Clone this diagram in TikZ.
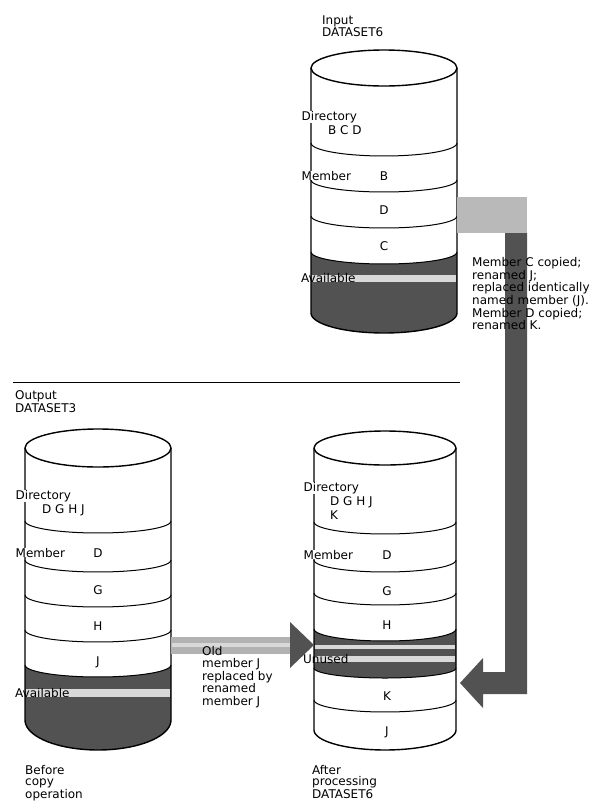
\documentclass[tikz,border=0pt]{standalone}
\usepackage{fontspec}
\setmainfont{DejaVu Sans}
\newcommand\mycylarc[4]{\draw[arcline] plot[domain=180:360,samples=40] ({#1+#2*cos(\x)},{#3-#4*sin(\x)});}
\newcommand\mycyldark[6]{\fill[darkfill] plot[domain=180:360,samples=40] ({#1+#2*cos(\x)},{#3-#4*sin(\x)}) -- plot[domain=360:180,samples=40] ({#1+#2*cos(\x)},{#5-#6*sin(\x)}) -- cycle;}
\newcommand\mycylout[6]{%
  \draw[outl] (#1,#3) ellipse [x radius=#2, y radius=#4];
  \draw[outl] ({#1-#2},#3) -- ({#1-#2},#5) -- plot[domain=180:360,samples=40] ({#1+#2*cos(\x)},{#5-#6*sin(\x)}) -- ({#1+#2},#3);}
\begin{document}
\begin{tikzpicture}[x=1pt,y=-1pt,
  outl/.style={line width=1.4pt, line join=round},
  arcline/.style={line width=1pt},
  darkfill/.style={fill=black!68},
  stripe/.style={fill=gray!30},
  lbl/.style={font=\fontsize{12}{11}\selectfont, inner sep=0pt, align=left, anchor=base west},
  lblw/.style={lbl, fill=white, inner xsep=0.5pt},
  ctr/.style={lbl, anchor=base},
  blockfill/.style={fill=gray!55},
  arrowfill/.style={fill=black!68},
  barfill/.style={fill=gray!60},
]
\useasboundingbox (0,0) rectangle (595,807);
\fill[white] (0,0) rectangle (595,807);

% ---------------- Input cylinder (top) ----------------
\mycyldark{384}{73}{252}{12}{313}{20}
\fill[stripe] (312,275) rectangle (456,282);
\mycylout{384}{73}{68}{18}{313}{20}
\mycylarc{384}{73}{143}{13}
\mycylarc{384}{73}{180}{12}
\mycylarc{384}{73}{216}{12}
\mycylarc{384}{73}{252}{12}

\node[lbl, anchor=north west, font=\fontsize{12}{12.5}\selectfont] (inlab) at (322,15.5) {Input\\DATASET6};
\node[lblw] (dir1) at (301,120.3) {Directory};
\node[lbl] (dir1m) at (328,134.3) {B C D};
\node[lblw] (mem1) at (301,180.3) {Member};
\node[ctr] (b1) at (384,180.3) {B};
\node[ctr] (d1) at (384,214.3) {D};
\node[ctr] (c1) at (384,250.3) {C};
\node[lbl] (av1) at (301,282.3) {Available};

% ---------------- separating rule ----------------
\coordinate (r1) at (13,382);
\coordinate (r2) at (460,382);
\draw[line width=1pt] (r1) -- (r2);

% ---------------- Output cylinder (left) ----------------
\mycyldark{98}{73}{665}{12}{720}{30}
\fill[stripe] (26,689) rectangle (170,697);
\mycylout{98}{73}{448}{19}{720}{30}
\mycylarc{98}{73}{521}{12}
\mycylarc{98}{73}{560}{12}
\mycylarc{98}{73}{595}{12}
\mycylarc{98}{73}{630}{12}
\mycylarc{98}{73}{665}{12}

\node[lbl, anchor=north west] (outlab) at (15,390.5) {Output\\DATASET3};
\node[lblw] (dir2) at (15,499.3) {Directory};
\node[lbl] (dir2m) at (42,513.3) {D G H J};
\node[lblw] (mem2) at (15,557.3) {Member};
\node[ctr] (d2) at (98,557.3) {D};
\node[ctr] (g2) at (98,594.3) {G};
\node[ctr] (h2) at (98,630.3) {H};
\node[ctr] (j2) at (98,665.3) {J};
\node[lbl] (av2) at (15,697.3) {Available};
\node[lbl, anchor=north west] (before) at (25,765.5) {Before\\copy\\operation};

% ---------------- After cylinder (right) ----------------
\mycyldark{385}{71}{629}{12}{668}{10}
\fill[stripe] (315,645) rectangle (455,649);
\fill[stripe] (315,656) rectangle (455,662);
\mycylout{385}{71}{448}{17}{730}{20}
\mycylarc{385}{71}{522}{12}
\mycylarc{385}{71}{560}{12}
\mycylarc{385}{71}{593}{12}
\mycylarc{385}{71}{629}{12}
\mycylarc{385}{71}{668}{10}
\mycylarc{385}{71}{700}{12}

\node[lblw] (dir3) at (303,491.3) {Directory};
\node[lbl, anchor=north west, font=\fontsize{12}{14}\selectfont] (dir3m) at (330,496.5) {D G H J\\K};
\node[lblw] (mem3) at (303,559.3) {Member};
\node[ctr] (d3) at (387,559.3) {D};
\node[ctr] (g3) at (387,595.3) {G};
\node[ctr] (h3) at (387,629.3) {H};
\node[lbl] (un3) at (303,663.3) {Unused};
\node[ctr] (k3) at (387,700.3) {K};
\node[ctr] (j3) at (387,735.3) {J};
\node[lbl, anchor=north west] (after) at (312,765.5) {After\\processing\\DATASET6};

% ---------------- big copy arrow ----------------
\coordinate (ba1) at (457,197);
\coordinate (ba2) at (527,233);
\fill[blockfill] (ba1) rectangle (ba2);
\coordinate (bv1) at (505,233);
\coordinate (bv2) at (527,233);
\coordinate (bv3) at (527,694);
\coordinate (bv4) at (483,694);
\coordinate (bv5) at (483,708);
\coordinate (btip) at (460,683);
\coordinate (bv6) at (483,658);
\coordinate (bv7) at (483,672);
\coordinate (bv8) at (505,672);
\fill[arrowfill] (bv1) -- (bv2) -- (bv3) -- (bv4) -- (bv5) -- (btip) -- (bv6) -- (bv7) -- (bv8) -- cycle;

\node[lbl, anchor=north west] (desc) at (472,257.5) {Member C copied;\\renamed J;\\replaced identically\\named member (J).\\Member D copied;\\renamed K.};

% ---------------- old member J arrow ----------------
\coordinate (oa1) at (171,637);
\coordinate (oa2) at (290,637);
\coordinate (oa3) at (290,622);
\coordinate (otip) at (314,645);
\coordinate (oa4) at (290,668);
\coordinate (oa5) at (290,654);
\coordinate (oa6) at (171,654);
\fill[barfill] (oa1) -- (oa2) -- (oa5) -- (oa6) -- cycle;
\fill[arrowfill] (oa3) -- (otip) -- (oa4) -- cycle;
\fill[stripe] (172,643) rectangle (290,647);

\node[lbl, anchor=north west, font=\fontsize{12}{12.5}\selectfont] (oldlab) at (202,646) {Old\\member J\\replaced by\\renamed\\member J};
\end{tikzpicture}
\end{document}
